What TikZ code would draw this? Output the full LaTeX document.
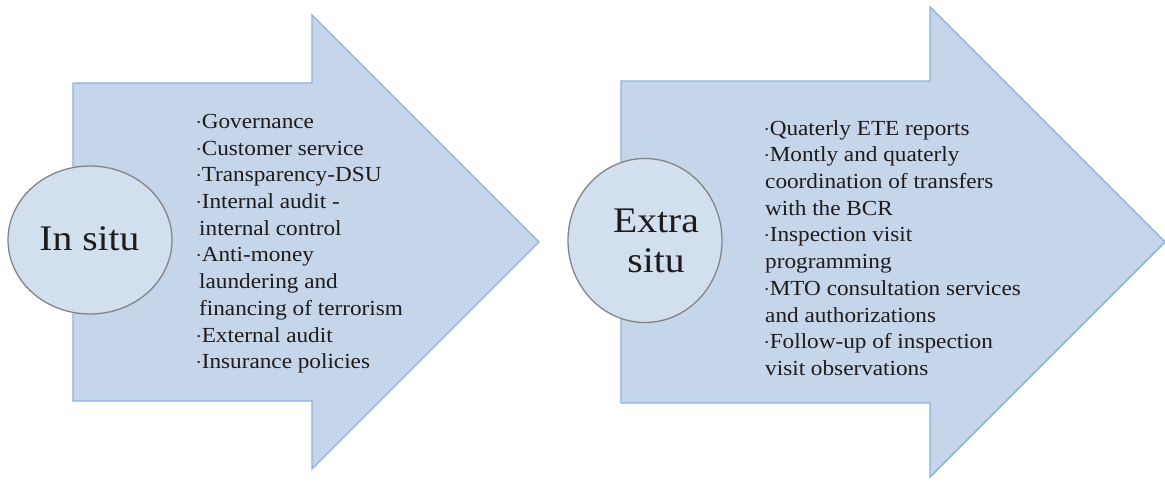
\documentclass[tikz,border=0pt]{standalone}
\usepackage{fontspec}
\setmainfont{Liberation Serif}[FakeStretch=1.08]
\newfontfamily\bigfont{Liberation Serif}[FakeStretch=1.1]
\usetikzlibrary{shapes.geometric}
\definecolor{arrowfill}{HTML}{C5D5EA}
\definecolor{arrowline}{HTML}{8EB2DF}
\definecolor{circfill}{HTML}{D2DFEF}
\definecolor{circline}{HTML}{858585}
\definecolor{txt}{HTML}{1E1B1C}
\newcommand\mybul{\raisebox{3pt}{\fontsize{9}{9}\selectfont•}\hspace{1.2pt}}
\tikzset{
  bigarrow/.style={fill=arrowfill, draw=arrowline, line width=1.4pt, line join=miter},
  circ/.style={ellipse, fill=circfill, draw=circline, line width=1.3pt, inner sep=0pt},
  biglabel/.style={font=\bigfont\fontsize{36}{40}\selectfont, text=txt, align=center, inner sep=0pt},
  itemlist/.style={font=\fontsize{21.5}{26.7}\selectfont, text=txt, align=left, inner sep=0pt, anchor=north west},
}
\begin{document}
\begin{tikzpicture}[x=1pt,y=-1pt]
\useasboundingbox (0,0) rectangle (1165,487);
% left arrow
\draw[bigarrow] (73,83) -- (312,83) -- (312,15) -- (539,242) -- (312,469) -- (312,401) -- (73,401) -- cycle;
% right arrow
\draw[bigarrow] (621,81) -- (930,81) -- (930,7) -- (1165,242) -- (930,477) -- (930,403) -- (621,403) -- cycle;
% circles
\node[circ, minimum width=164pt, minimum height=148pt] (c1) at (90,240) {};
\node[circ, minimum width=154pt, minimum height=164pt] (c2) at (645,240.5) {};
\node[biglabel, anchor=base] (l1) at (89.5,250) {In situ};
\node[biglabel] (l2) at (656,241) {Extra\\situ};
% item lists
\node[itemlist] (t1) at (197,114) {\mybul Governance\\
\mybul Customer service\\
\mybul Transparency-DSU\\
\mybul Internal audit -\\
\hspace{2pt}internal control\\
\mybul Anti-money\\
\hspace{2pt}laundering and\\
\hspace{2pt}financing of terrorism\\
\mybul External audit\\
\mybul Insurance policies};
\node[itemlist] (t2) at (765,120) {\mybul Quaterly ETE reports\\
\mybul Montly and quaterly\\
coordination of transfers\\
with the BCR\\
\mybul Inspection visit\\
programming\\
\mybul MTO consultation services\\
and authorizations\\
\mybul Follow-up of inspection\\
visit observations};
\end{tikzpicture}
\end{document}
